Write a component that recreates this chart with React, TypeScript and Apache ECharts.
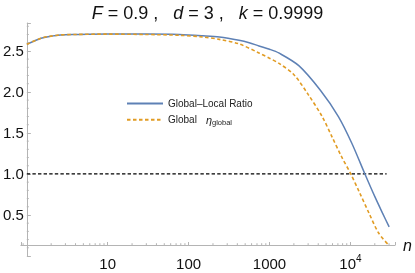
import React, { useEffect, useRef } from 'react';
import * as echarts from 'echarts';

// ---- data ----
const nBlue = [1, 1.5, 2, 2.6, 4, 10, 30, 77, 150, 240, 420, 560, 740, 1000, 1300, 2300, 4250, 7100, 10400, 15100, 20100, 25000, 30100];
const blueRatio = [2.58, 2.655, 2.68, 2.695, 2.7, 2.705, 2.705, 2.7, 2.685, 2.67, 2.63, 2.6, 2.56, 2.52, 2.475, 2.32, 2.02, 1.7, 1.375, 1.0, 0.72, 0.52, 0.355];

const nOrange = [1, 1.5, 2, 2.6, 4, 10, 30, 77, 150, 240, 420, 740, 1000, 1300, 2000, 3000, 4470, 5900, 7770, 10100, 13000, 17000, 22300, 29000];
const orangeGlobal = [2.58, 2.655, 2.68, 2.695, 2.7, 2.705, 2.7, 2.69, 2.67, 2.64, 2.585, 2.475, 2.41, 2.35, 2.21, 1.97, 1.7, 1.455, 1.21, 1.0, 0.77, 0.52, 0.28, 0.145];

const refN = [1, 28000];
const refVals = [1, 1];

const xMinorTicks = [0.9, 2, 3, 4, 5, 6, 7, 8, 9, 20, 30, 40, 50, 60, 70, 80, 90, 200, 300, 400, 500, 600, 700, 800, 900,
  2000, 3000, 4000, 5000, 6000, 7000, 8000, 9000, 20000, 30000];
const yMajorLabels = [0.5, 1.0, 1.5, 2.0, 2.5];
const yMinorTicks = [0.1, 0.2, 0.3, 0.4, 0.6, 0.7, 0.8, 0.9, 1.1, 1.2, 1.3, 1.4, 1.6, 1.7, 1.8, 1.9,
  2.1, 2.2, 2.3, 2.4, 2.6, 2.7, 2.8];

const SERIES_RATIO = 'Global–Local Ratio';
const SERIES_GLOBAL = 'Global η';

export default function App() {
  const ref = useRef<HTMLDivElement>(null);

  useEffect(() => {
    if (!ref.current) return;
    const chart = echarts.init(ref.current, null, { renderer: 'svg' });

    const X_MIN = 0.844;
    const X_MAX = 35650;
    const Y_MIN = 0;
    const Y_MAX = 2.84;
    const X_AXIS_SHIFT = -11; // x axis sits above the bottom of the y range
    const Y_AXIS_SHIFT = -6; // y axis sits at n = 1
    const AXIS_GRAY = '#b4b4b4';
    const BLUE = '#5E81B5';
    const ORANGE = '#E19C24';
    const FONT = '"Liberation Sans", Arial, sans-serif';

    const yLabel = (v: number) => {
      const hit = yMajorLabels.find((m) => Math.abs(m - v) < 1e-6);
      return hit === undefined ? '' : hit.toFixed(1);
    };
    const xLabel = (v: number) => {
      const e = Math.log10(v);
      const r = Math.round(e);
      if (Math.abs(e - r) > 1e-6 || r < 1) return '';
      if (r >= 4) return `{b|10}{s|${r}}`;
      return `{b|${Math.pow(10, r)}}`;
    };

    chart.setOption({
      animation: false,
      textStyle: { fontFamily: FONT },
      title: {
        text: '{i|F} = 0.9 ,   {i|d} = 3 ,   {i|k} = 0.9999',
        left: 'center',
        top: 2.5,
        padding: 0,
        textStyle: {
          fontFamily: FONT,
          fontSize: 18,
          fontWeight: 'normal',
          color: '#111',
          lineHeight: 20,
          rich: {
            i: { fontFamily: FONT, fontSize: 18, fontStyle: 'italic', color: '#111', lineHeight: 20 },
          },
        },
      },
      legend: {
        orient: 'vertical',
        left: 126,
        top: 98,
        padding: 0,
        itemWidth: 36,
        itemHeight: 14,
        itemGap: 5,
        itemStyle: { opacity: 0 },
        data: [SERIES_RATIO, SERIES_GLOBAL],
        formatter: (name: string) =>
          name === SERIES_RATIO ? '{t|Global–Local Ratio}' : '{t|Global}{e|η}{sub|global}',
        textStyle: {
          fontFamily: FONT,
          fontSize: 10,
          color: '#222',
          rich: {
            t: { fontFamily: FONT, fontSize: 10, lineHeight: 14, color: '#222' },
            e: { fontFamily: FONT, fontSize: 11, fontStyle: 'italic', lineHeight: 14, color: '#222', padding: [0, 0, 0, 9] },
            sub: { fontFamily: FONT, fontSize: 7.5, lineHeight: 7, verticalAlign: 'bottom', color: '#222' },
          },
        },
      },
      grid: { left: 20, right: 18, top: 23, bottom: 17, containLabel: false },
      xAxis: {
        type: 'log',
        logBase: 10,
        min: X_MIN,
        max: X_MAX,
        offset: X_AXIS_SHIFT,
        name: 'n',
        nameLocation: 'end',
        nameGap: 8,
        nameTextStyle: { fontFamily: FONT, fontSize: 16, fontStyle: 'italic', color: '#111' },
        axisLine: { show: true, lineStyle: { color: AXIS_GRAY, width: 1 } },
        axisTick: { show: true, inside: true, length: 3, lineStyle: { color: AXIS_GRAY, width: 1 } },
        minorTick: { show: false },
        splitLine: { show: false },
        axisLabel: {
          margin: 8,
          formatter: xLabel,
          color: '#111',
          rich: {
            b: { fontFamily: FONT, fontSize: 15, lineHeight: 20, color: '#111' },
            s: { fontFamily: FONT, fontSize: 10, lineHeight: 10, verticalAlign: 'top', color: '#111' },
          },
        },
      },
      yAxis: {
        type: 'value',
        min: Y_MIN,
        max: Y_MAX,
        interval: 0.5,
        offset: Y_AXIS_SHIFT,
        axisLine: { show: true, lineStyle: { color: AXIS_GRAY, width: 1 } },
        axisTick: { show: true, inside: true, length: 4, lineStyle: { color: AXIS_GRAY, width: 1 } },
        splitLine: { show: false },
        axisLabel: {
          margin: 3,
          formatter: yLabel,
          fontFamily: FONT,
          fontSize: 15,
          color: '#111',
        },
      },
      series: [
        {
          name: SERIES_RATIO,
          type: 'line',
          data: nBlue.map((n, i) => [n, blueRatio[i]]),
          smooth: 0.3,
          symbol: 'none',
          lineStyle: { color: BLUE, width: 1.5 },
          itemStyle: { color: BLUE },
          z: 3,
        },
        {
          name: SERIES_GLOBAL,
          type: 'line',
          data: nOrange.map((n, i) => [n, orangeGlobal[i]]),
          smooth: 0.3,
          symbol: 'none',
          lineStyle: { color: ORANGE, width: 1.6, type: [3.5, 2.5] },
          itemStyle: { color: ORANGE },
          z: 3,
        },
        {
          name: 'reference',
          type: 'line',
          data: refN.map((n, i) => [n, refVals[i]]),
          symbol: 'none',
          silent: true,
          lineStyle: { color: '#000', width: 1.3, type: [3.4, 2.2] },
          z: 2,
        },
        {
          name: 'xMinor',
          type: 'custom',
          silent: true,
          clip: false,
          data: xMinorTicks.map((n) => [n, Y_MIN]),
          renderItem: (_p: any, api: any) => {
            const pt = api.coord([api.value(0), Y_MIN]);
            const y = pt[1] + X_AXIS_SHIFT;
            return {
              type: 'line',
              shape: { x1: pt[0], y1: y, x2: pt[0], y2: y - 1.8 },
              style: { stroke: AXIS_GRAY, lineWidth: 1 },
            };
          },
          z: 1,
        },
        {
          name: 'yMinor',
          type: 'custom',
          silent: true,
          clip: false,
          data: yMinorTicks.map((v) => [1, v]),
          renderItem: (_p: any, api: any) => {
            const pt = api.coord([1, api.value(1)]);
            return {
              type: 'line',
              shape: { x1: pt[0], y1: pt[1], x2: pt[0] + 2, y2: pt[1] },
              style: { stroke: AXIS_GRAY, lineWidth: 1 },
            };
          },
          z: 1,
        },
      ],
    });

    return () => chart.dispose();
  }, []);

  return <div ref={ref} style={{ position: 'fixed', left: 0, top: 0, width: 415, height: 273 }} />;
}
